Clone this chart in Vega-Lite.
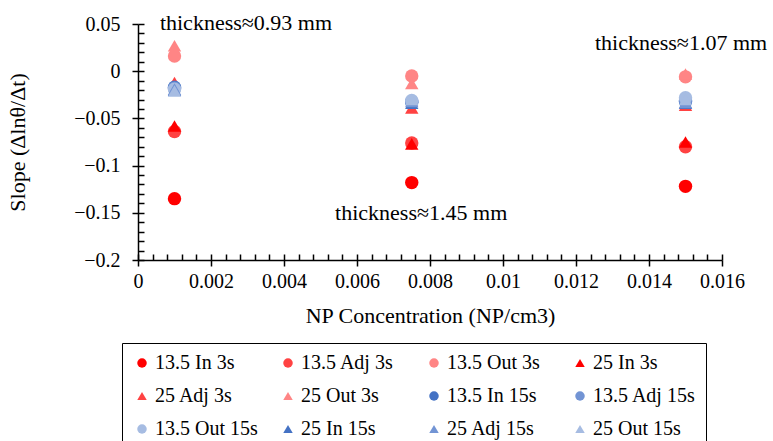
{
  "$schema": "https://vega.github.io/schema/vega-lite/v6.json",
  "width": 584,
  "height": 236,
  "autosize": {"type": "none"},
  "padding": {"left": 138, "top": 24, "right": 51, "bottom": 181},
  "background": "white",
  "config": {
    "view": {"stroke": null},
    "font": "Liberation Serif",
    "axis": {"labelFont": "Liberation Serif", "titleFont": "Liberation Serif", "labelColor": "black", "titleColor": "black", "domainColor": "black", "tickColor": "black", "grid": false, "titleFontWeight": "normal"}
  },
  "datasets": {
    "pts": [
      {"x": 0.001, "y": -0.135, "series": "13.5 In 3s"},
      {"x": 0.001, "y": -0.064, "series": "13.5 Adj 3s"},
      {"x": 0.001, "y": 0.016, "series": "13.5 Out 3s"},
      {"x": 0.001, "y": -0.058, "series": "25 In 3s"},
      {"x": 0.001, "y": -0.012, "series": "25 Adj 3s"},
      {"x": 0.001, "y": 0.027, "series": "25 Out 3s"},
      {"x": 0.001, "y": -0.017, "series": "13.5 In 15s"},
      {"x": 0.001, "y": -0.018, "series": "13.5 Adj 15s"},
      {"x": 0.001, "y": -0.019, "series": "13.5 Out 15s"},
      {"x": 0.001, "y": -0.020, "series": "25 In 15s"},
      {"x": 0.001, "y": -0.019, "series": "25 Adj 15s"},
      {"x": 0.001, "y": -0.021, "series": "25 Out 15s"},
      {"x": 0.0075, "y": -0.118, "series": "13.5 In 3s"},
      {"x": 0.0075, "y": -0.076, "series": "13.5 Adj 3s"},
      {"x": 0.0075, "y": -0.005, "series": "13.5 Out 3s"},
      {"x": 0.0075, "y": -0.077, "series": "25 In 3s"},
      {"x": 0.0075, "y": -0.039, "series": "25 Adj 3s"},
      {"x": 0.0075, "y": -0.013, "series": "25 Out 3s"},
      {"x": 0.0075, "y": -0.033, "series": "13.5 In 15s"},
      {"x": 0.0075, "y": -0.032, "series": "13.5 Adj 15s"},
      {"x": 0.0075, "y": -0.031, "series": "13.5 Out 15s"},
      {"x": 0.0075, "y": -0.034, "series": "25 In 15s"},
      {"x": 0.0075, "y": -0.032, "series": "25 Adj 15s"},
      {"x": 0.0075, "y": -0.030, "series": "25 Out 15s"},
      {"x": 0.015, "y": -0.122, "series": "13.5 In 3s"},
      {"x": 0.015, "y": -0.080, "series": "13.5 Adj 3s"},
      {"x": 0.015, "y": -0.006, "series": "13.5 Out 3s"},
      {"x": 0.015, "y": -0.075, "series": "25 In 3s"},
      {"x": 0.015, "y": -0.036, "series": "25 Adj 3s"},
      {"x": 0.015, "y": -0.003, "series": "25 Out 3s"},
      {"x": 0.015, "y": -0.032, "series": "13.5 In 15s"},
      {"x": 0.015, "y": -0.031, "series": "13.5 Adj 15s"},
      {"x": 0.015, "y": -0.028, "series": "13.5 Out 15s"},
      {"x": 0.015, "y": -0.034, "series": "25 In 15s"},
      {"x": 0.015, "y": -0.033, "series": "25 Adj 15s"},
      {"x": 0.015, "y": -0.030, "series": "25 Out 15s"}
    ],
    "notes": [
      {"x": 0.0006, "y": 0.0434, "text": "thickness≈0.93 mm"},
      {"x": 0.0054, "y": -0.158, "text": "thickness≈1.45 mm"},
      {"x": 0.01252, "y": 0.0222, "text": "thickness≈1.07 mm"}
    ]
  },
  "resolve": {"axis": {"x": "independent", "y": "independent"}},
  "layer": [
    {
      "data": {"name": "pts"},
      "mark": {"type": "point", "filled": true, "opacity": 1, "size": 180, "clip": false},
      "encoding": {
        "x": {"field": "x", "type": "quantitative", "scale": {"domain": [0, 0.016], "nice": false, "zero": false},
          "axis": {"orient": "bottom", "title": "NP Concentration (NP/cm3)", "values": [0, 0.002, 0.004, 0.006, 0.008, 0.01, 0.012, 0.014, 0.016], "format": "~g", "labelFontSize": 20, "titleFontSize": 22, "tickSize": 6, "labelPadding": 5, "titlePadding": 14, "domainWidth": 1.5, "tickWidth": 1.5, "labelFlush": false, "labelOverlap": false}},
        "y": {"field": "y", "type": "quantitative", "scale": {"domain": [-0.2, 0.05], "nice": false, "zero": false},
          "axis": {"orient": "left", "title": "Slope (Δlnθ/Δt)", "values": [-0.2, -0.15, -0.1, -0.05, 0, 0.05], "format": "~g", "labelFontSize": 20, "titleFontSize": 22, "tickSize": 6, "labelPadding": 12, "titlePadding": 44, "domainWidth": 1.5, "tickWidth": 1.5, "labelFlush": false, "labelOverlap": false}},
        "color": {"field": "series", "type": "nominal",
          "scale": {"domain": ["13.5 In 3s", "13.5 Adj 3s", "13.5 Out 3s", "25 In 3s", "25 Adj 3s", "25 Out 3s", "13.5 In 15s", "13.5 Adj 15s", "13.5 Out 15s", "25 In 15s", "25 Adj 15s", "25 Out 15s"],
            "range": ["#FF0000", "#FF4242", "#FF8585", "#FF0000", "#FF4242", "#FF8585", "#4472C4", "#7294D4", "#A6BCE2", "#4472C4", "#7294D4", "#A6BCE2"]},
          "legend": {"title": null, "orient": "none", "legendX": -16, "legendY": 319, "direction": "horizontal", "columns": 4, "gridAlign": "all", "strokeColor": "black", "padding": 10, "symbolSize": 90, "symbolStrokeWidth": 0, "symbolOpacity": 1, "labelFont": "Liberation Serif", "labelFontSize": 20, "labelColor": "black", "labelLimit": 200, "columnPadding": 20, "rowPadding": 13, "labelOffset": 3}},
        "shape": {"field": "series", "type": "nominal",
          "scale": {"domain": ["13.5 In 3s", "13.5 Adj 3s", "13.5 Out 3s", "25 In 3s", "25 Adj 3s", "25 Out 3s", "13.5 In 15s", "13.5 Adj 15s", "13.5 Out 15s", "25 In 15s", "25 Adj 15s", "25 Out 15s"],
            "range": ["circle", "circle", "circle", "triangle-up", "triangle-up", "triangle-up", "circle", "circle", "circle", "triangle-up", "triangle-up", "triangle-up"]}}
      }
    },
    {
      "data": {"name": "notes"},
      "mark": {"type": "text", "align": "left", "baseline": "alphabetic", "font": "Liberation Serif", "fontSize": 22, "color": "black", "clip": false},
      "encoding": {
        "x": {"field": "x", "type": "quantitative",
          "axis": {"orient": "top", "offset": -236, "title": null, "labels": false, "domain": false, "values": [0, 0.0004, 0.0008, 0.0012, 0.0016, 0.002, 0.0024, 0.0028, 0.0032, 0.0036, 0.004, 0.0044, 0.0048, 0.0052, 0.0056, 0.006, 0.0064, 0.0068, 0.0072, 0.0076, 0.008, 0.0084, 0.0088, 0.0092, 0.0096, 0.01, 0.0104, 0.0108, 0.0112, 0.0116, 0.012, 0.0124, 0.0128, 0.0132, 0.0136, 0.014, 0.0144, 0.0148, 0.0152, 0.0156, 0.016], "tickSize": 6, "tickWidth": 1.5}},
        "y": {"field": "y", "type": "quantitative",
          "axis": {"orient": "right", "offset": -584, "title": null, "labels": false, "domain": false, "values": [-0.2, -0.19, -0.18, -0.17, -0.16, -0.15, -0.14, -0.13, -0.12, -0.11, -0.1, -0.09, -0.08, -0.07, -0.06, -0.05, -0.04, -0.03, -0.02, -0.01, 0, 0.01, 0.02, 0.03, 0.04, 0.05], "tickSize": 6, "tickWidth": 1.5}},
        "text": {"field": "text"}
      }
    }
  ]
}
